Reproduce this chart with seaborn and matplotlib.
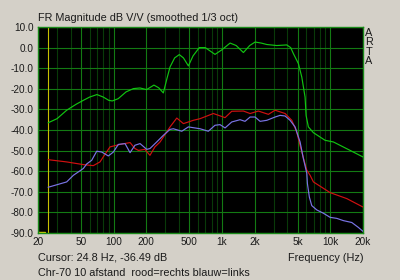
import matplotlib
matplotlib.use("Agg")
import matplotlib.pyplot as plt
import matplotlib.ticker as mticker
import seaborn as sns
import pandas as pd

# ---- data -------------------------------------------------------------
green_freq = [24.8, 30, 36.8, 45, 52.4, 60, 70, 80, 90, 97, 110, 130, 152, 175, 201,
              235, 260, 287, 310, 331, 365, 403, 440, 489, 540, 617, 700, 861, 1000,
              1186, 1350, 1574, 1800, 2018, 2300, 2588, 3200, 3955, 4300, 4553, 5069,
              5445, 5837, 5970, 6264, 6970, 8935, 10660, 15200, 20000]
green_db = [-36.5, -34.5, -30.4, -27.5, -25.6, -24.0, -22.8, -24.0, -25.6, -25.9, -24.8,
            -21.5, -19.9, -19.6, -20.4, -18.2, -19.5, -22.0, -15.0, -9.4, -5.0, -3.4,
            -5.0, -8.9, -4.0, 0.0, 0.0, -3.3, -1.0, 2.2, 1.0, -2.4, 1.0, 2.7, 2.2, 1.5,
            1.0, 1.3, 0.0, -2.9, -7.8, -14.3, -24.0, -33.0, -38.5, -41.3, -45.0, -45.8,
            -49.9, -53.1]

red_freq = [24.8, 36.8, 52.4, 64.8, 74.7, 80.2, 92.4, 114, 141.5, 157, 169, 194, 216,
            240, 268, 331, 382, 440, 543, 627, 831, 1066, 1229, 1575, 1815, 2164, 2677,
            3085, 3820, 4403, 4894, 5250, 5633, 6055, 6500, 6970, 9940, 14170, 20000]
red_db = [-54.4, -55.5, -56.8, -57.3, -55.5, -53.0, -48.2, -47.0, -46.1, -49.0, -49.9,
          -49.4, -52.3, -48.2, -45.8, -38.5, -34.2, -36.9, -35.3, -34.5, -32.0, -34.0,
          -30.9, -30.8, -32.0, -30.8, -32.4, -30.4, -32.0, -35.3, -41.0, -47.5, -53.5,
          -59.5, -62.0, -65.2, -70.4, -73.3, -77.4]

blue_freq = [24.8, 36.8, 42.4, 52.4, 56.3, 62.6, 69.7, 77.5, 89.2, 99.2, 110.3, 127.2,
             141.5, 157, 175, 201.7, 216, 249.5, 287, 331, 355, 424.6, 488.6, 627, 747,
             861, 958, 1066, 1229, 1466, 1629, 1815, 2018, 2244, 2588, 3085, 3431,
             3820, 4245, 4721, 5250, 5633, 6055, 6135, 6397, 6730, 7488, 8617, 9940,
             11460, 13190, 15760, 18140, 20000]
blue_db = [-67.8, -65.2, -62.0, -58.7, -56.5, -54.7, -50.3, -50.7, -52.6, -50.7, -47.0,
           -46.6, -51.0, -47.4, -46.6, -49.4, -49.0, -45.8, -42.6, -39.7, -39.4, -40.6,
           -38.5, -39.4, -40.6, -37.7, -37.4, -39.0, -36.1, -35.0, -35.8, -33.7, -33.7,
           -35.8, -35.3, -33.7, -32.9, -33.2, -35.3, -38.5, -45.8, -53.9, -61.0, -66.0,
           -72.6, -76.7, -78.8, -80.4, -82.4, -82.9, -84.0, -84.9, -87.3, -89.2]

x_ticks = [20, 50, 100, 200, 500, 1000, 2000, 5000, 10000, 20000]
x_tick_labels = ["20", "50", "100", "200", "500", "1k", "2k", "5k", "10k", "20k"]
y_ticks = [10, 0, -10, -20, -30, -40, -50, -60, -70, -80, -90]
y_tick_labels = ["10.0", "0.0", "-10.0", "-20.0", "-30.0", "-40.0", "-50.0",
                 "-60.0", "-70.0", "-80.0", "-90.0"]

cursor_freq = 24.8
cursor_db = -36.49
title = "FR Magnitude dB V/V (smoothed 1/3 oct)"
note = "Chr-70 10 afstand  rood=rechts blauw=links"

# ---- figure -----------------------------------------------------------
sns.set_style("white")
plt.rcParams["font.family"] = ["Liberation Sans", "DejaVu Sans"]

BG = "#d4d0c8"
GRID_MAJOR = "#137a13"
GRID_MINOR = "#093a09"
TXT = "#1a1a1a"

fig = plt.figure(figsize=(4, 2.8), dpi=100, facecolor=BG)
ax = fig.add_axes([38 / 400, 1 - 233 / 280, 325 / 400, 206 / 280])
ax.set_facecolor("black")

df_g = pd.DataFrame({"f": green_freq, "db": green_db})
df_r = pd.DataFrame({"f": red_freq, "db": red_db})
df_b = pd.DataFrame({"f": blue_freq, "db": blue_db})

ax.set_xscale("log")
ax.set_xlim(20, 20000)
ax.set_ylim(-90, 10)

# grid
minor_x = [m * d for d in (10, 100, 1000) for m in range(2, 10)
           if m * d not in x_ticks and 20 < m * d < 20000]
ax.xaxis.set_major_locator(mticker.FixedLocator(x_ticks))
ax.xaxis.set_minor_locator(mticker.FixedLocator(minor_x))
ax.xaxis.set_major_formatter(mticker.FixedFormatter(x_tick_labels))
ax.xaxis.set_minor_formatter(mticker.NullFormatter())
ax.yaxis.set_major_locator(mticker.FixedLocator(y_ticks))
ax.yaxis.set_major_formatter(mticker.FixedFormatter(y_tick_labels))
ax.grid(which="major", axis="both", color=GRID_MAJOR, lw=0.8, zorder=0)
ax.grid(which="minor", axis="x", color=GRID_MINOR, lw=0.8, zorder=0)
ax.set_axisbelow(True)
ax.tick_params(which="both", length=0, labelsize=7.2, colors=TXT, pad=3)
for s in ax.spines.values():
    s.set_color("#1a8a1a")
    s.set_linewidth(1.0)

# cursor
ax.axvline(cursor_freq, color="#c8c000", lw=0.8, zorder=1)
ax.axhline(-89.4, xmin=0.0, xmax=0.022, color="#d8d000", lw=1.0, zorder=1)

sns.lineplot(data=df_g, x="f", y="db", ax=ax, color="#11c411", lw=0.85, zorder=3)
sns.lineplot(data=df_r, x="f", y="db", ax=ax, color="#d01010", lw=0.85, zorder=3)
sns.lineplot(data=df_b, x="f", y="db", ax=ax, color="#7a74e6", lw=0.85, zorder=4)
ax.set_xlabel("")
ax.set_ylabel("")

# texts
FS = 7.8
fig.text(38 / 400, 1 - 18 / 280, title, fontsize=FS, color=TXT, va="center", ha="left")
for i, ch in enumerate("ARTA"):
    fig.text(369 / 400, 1 - (33 + 9.4 * i) / 280, ch, fontsize=FS, color=TXT,
             va="center", ha="center")
fig.text(363 / 400, 1 - 258 / 280, "Frequency (Hz)", fontsize=FS, color=TXT,
         va="center", ha="right")
fig.text(38 / 400, 1 - 258 / 280, f"Cursor: {cursor_freq} Hz, {cursor_db} dB",
         fontsize=FS, color=TXT, va="center", ha="left")
fig.text(38 / 400, 1 - 273 / 280, note, fontsize=FS, color=TXT, va="center", ha="left")

fig.savefig("out.png", dpi=100, facecolor=BG)
